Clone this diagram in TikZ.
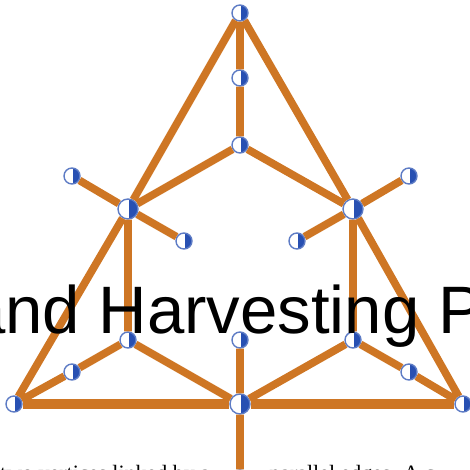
\documentclass[tikz,border=0pt]{standalone}
\usepackage{fontspec}
\setmainfont{Liberation Serif}
\newfontfamily\headfont{Liberation Sans}
\usepackage{xcolor}
\definecolor{edgeorg}{RGB}{206,118,36}
\definecolor{vtxblue}{RGB}{40,80,178}
\tikzset{
  vtx/.style={
    circle, draw=vtxblue!75, fill=white, line width=0.8pt,
    minimum size=0.32cm, inner sep=0pt,
    path picture={\fill[vtxblue]
      ([xshift=0.6pt]path picture bounding box.north) rectangle
      (path picture bounding box.south east);}},
  bigvtx/.style={vtx, minimum size=0.4cm},
  link/.style={draw=edgeorg, line width=4.4pt},
  wlink/.style={draw=edgeorg, line width=5.2pt},
  heading/.style={anchor=base west, font=\headfont\fontsize{38.2}{40}\selectfont},
  bodytext/.style={anchor=base west, font=\fontsize{12.5}{14}\selectfont},
}
\begin{document}
\begin{tikzpicture}[x=0.02cm, y=-0.02cm]
  \useasboundingbox (0,0) rectangle (470,470);
  \clip (0,0) rectangle (470,470);
  % vertices
  \node[vtx]    (top)  at (240,13)  {};
  \node[vtx]    (up1)  at (240,78)  {};
  \node[vtx]    (up2)  at (240,145) {};
  \node[bigvtx] (lhub) at (128,209) {};
  \node[bigvtx] (rhub) at (353,209) {};
  \node[vtx]    (lout) at (72,176)  {};
  \node[vtx]    (lin)  at (184,241) {};
  \node[vtx]    (rout) at (409,176) {};
  \node[vtx]    (rin)  at (297,241) {};
  \node[vtx]    (bl)   at (14,404)  {};
  \node[vtx]    (br)   at (463,404) {};
  \node[bigvtx] (bm)   at (240,404) {};
  \node[vtx]    (lmid) at (128,340) {};
  \node[vtx]    (lsub) at (72,372)  {};
  \node[vtx]    (rmid) at (353,340) {};
  \node[vtx]    (rsub) at (409,372) {};
  \node[vtx]    (cmid) at (240,340) {};
  \node[vtx]    (foot) at (240,478) {};
  % edges
  \path[link] (top) -- (lhub) (lhub) -- (bl)
              (top) -- (rhub) (rhub) -- (br)
              (top) -- (up1) (up1) -- (up2)
              (up2) -- (lhub) (up2) -- (rhub)
              (lhub) -- (lout) (lhub) -- (lin)
              (rhub) -- (rout) (rhub) -- (rin)
              (lhub) -- (lmid) (rhub) -- (rmid)
              (bl) -- (lsub) (lsub) -- (lmid) (lmid) -- (bm)
              (br) -- (rsub) (rsub) -- (rmid) (rmid) -- (bm)
              (cmid) -- (bm) (bm) -- (foot);
  \path[wlink] (bl) -- (bm) (bm) -- (br);
  \node[heading] (head) at (-38,333) {and Harvesting P};
  \node[bodytext] (body) at (-6,480) {two vertices linked by a \hspace{2.2em} parallel edges. A c};
\end{tikzpicture}
\end{document}
